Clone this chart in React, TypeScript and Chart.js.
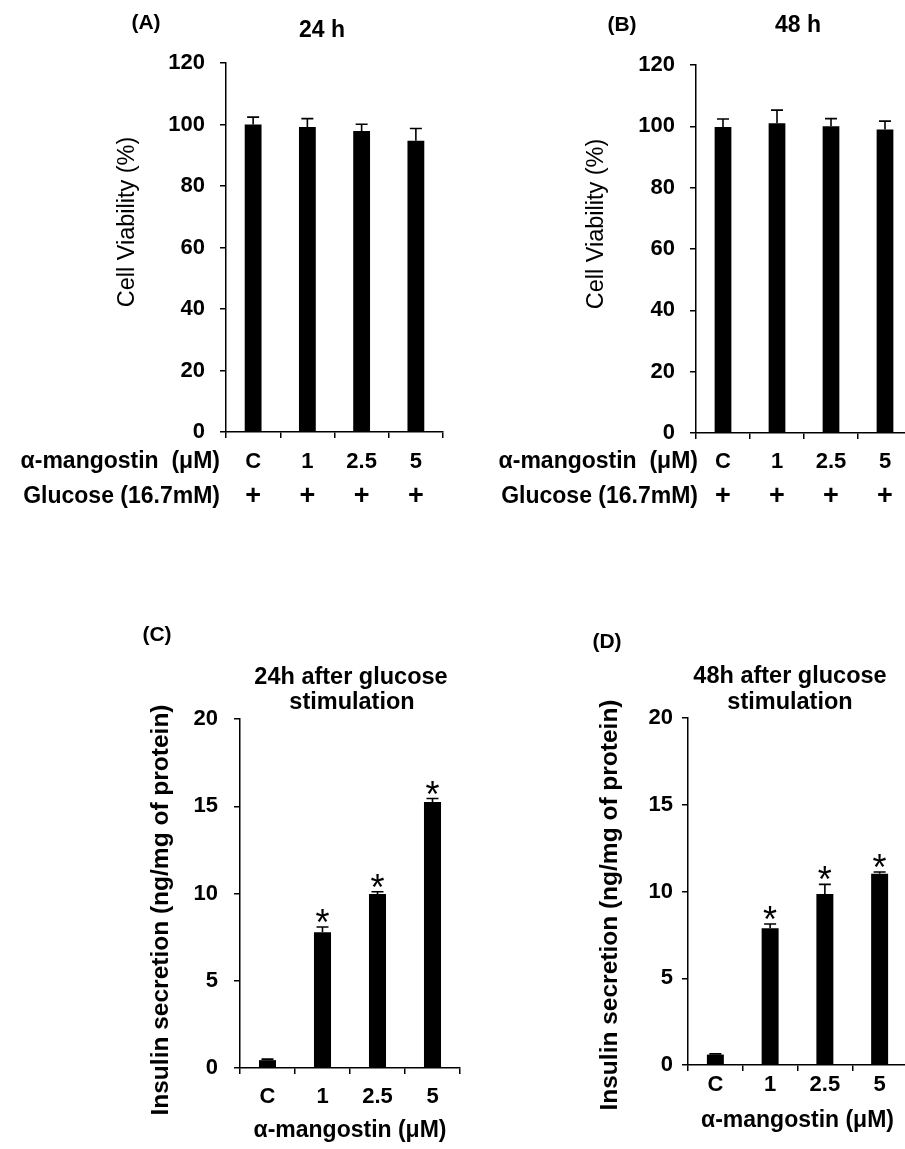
import React, { useEffect, useRef } from 'react';
import { Chart, registerables } from 'chart.js';

Chart.register(...registerables);

// ---------------- data ----------------
const categories = ['C', '1', '2.5', '5'];
const glucoseRow = ['+', '+', '+', '+'];

const viability24 = [100, 99.2, 97.9, 94.7];
const viability24Err = [2.4, 2.7, 2.2, 4.0];
const viability48 = [99.8, 101.0, 100.0, 99.0];
const viability48Err = [2.6, 4.3, 2.5, 2.7];

const insulin24 = [0.45, 7.78, 9.97, 15.24];
const insulin24Err = [0.06, 0.3, 0.13, 0.2];
const insulin48 = [0.6, 7.88, 9.86, 11.02];
const insulin48Err = [0.04, 0.25, 0.55, 0.1];

const insulin24Marks = ['', '*', '*', '*'];
const insulin48Marks = ['', '*', '*', '*'];
const noMarks = ['', '', '', ''];

const viabilityRange = { min: 0, max: 120, step: 20 };
const insulinRange = { min: 0, max: 20, step: 5 };

// ---------------- styling / layout ----------------
const FAMILY = "'Liberation Sans', Arial, Helvetica, sans-serif";
const bold = (s: number) => `bold ${s}px ${FAMILY}`;
const regular = (s: number) => `${s}px ${FAMILY}`;

Chart.defaults.font.family = FAMILY;
Chart.defaults.color = '#000';

type TextItem = {
  text: string;
  x: number;
  y: number;
  font: string;
  align?: CanvasTextAlign;
  rotate?: boolean;
};

type Row = { cells: string[]; y: number; font: string } | null;

type Panel = {
  key: string;
  labels: string[];
  values: number[];
  errors: number[];
  marks: string[];
  range: { min: number; max: number; step: number };
  box: { x: number; y: number; w: number; h: number };
  yWidth: number;
  padTop: number;
  padRight: number;
  xHeight: number;
  yTickPad: number;
  xTickPad: number;
  xTitle?: { text: string; pad: number };
  row: Row;
  texts: TextItem[];
};

const panels: Panel[] = [
  {
    key: 'A',
    labels: categories,
    values: viability24,
    errors: viability24Err,
    marks: noMarks,
    range: viabilityRange,
    box: { x: 0, y: 0, w: 452, h: 520 },
    yWidth: 226,
    padTop: 63,
    padRight: 9,
    xHeight: 88,
    yTickPad: 15,
    xTickPad: 10.5,
    row: { cells: glucoseRow, y: 497, font: bold(27) },
    texts: [
      { text: '(A)', x: 146, y: 23, font: bold(21) },
      { text: '24 h', x: 322, y: 31, font: bold(23) },
      { text: 'Cell Viability (%)', x: 128, y: 222, font: regular(23.5), rotate: true },
      { text: 'α-mangostin  (μM)', x: 220, y: 462, font: bold(23), align: 'right' },
      { text: 'Glucose (16.7mM)', x: 220, y: 497, font: bold(23), align: 'right' },
    ],
  },
  {
    key: 'B',
    labels: categories,
    values: viability48,
    errors: viability48Err,
    marks: noMarks,
    range: viabilityRange,
    box: { x: 452, y: 0, w: 470, h: 520 },
    yWidth: 244,
    padTop: 65,
    padRight: 10,
    xHeight: 87,
    yTickPad: 15,
    xTickPad: 9.5,
    row: { cells: glucoseRow, y: 497, font: bold(27) },
    texts: [
      { text: '(B)', x: 622, y: 25, font: bold(21) },
      { text: '48 h', x: 798, y: 26, font: bold(23) },
      { text: 'Cell Viability (%)', x: 597, y: 224, font: regular(23.5), rotate: true },
      { text: 'α-mangostin  (μM)', x: 698, y: 462, font: bold(23), align: 'right' },
      { text: 'Glucose (16.7mM)', x: 698, y: 497, font: bold(23), align: 'right' },
    ],
  },
  {
    key: 'C',
    labels: categories,
    values: insulin24,
    errors: insulin24Err,
    marks: insulin24Marks,
    range: insulinRange,
    box: { x: 0, y: 520, w: 470, h: 629 },
    yWidth: 240,
    padTop: 199,
    padRight: 10,
    xHeight: 81,
    yTickPad: 16,
    xTickPad: 9.4,
    xTitle: { text: 'α-mangostin (μM)', pad: 5 },
    row: null,
    texts: [
      { text: '(C)', x: 157, y: 635, font: bold(21) },
      { text: '24h after glucose', x: 351, y: 678, font: bold(23.5) },
      { text: 'stimulation', x: 352, y: 703, font: bold(23.5) },
      { text: 'Insulin secretion (ng/mg of protein)', x: 161, y: 910, font: bold(24.5), rotate: true },
    ],
  },
  {
    key: 'D',
    labels: categories,
    values: insulin48,
    errors: insulin48Err,
    marks: insulin48Marks,
    range: insulinRange,
    box: { x: 470, y: 520, w: 450, h: 629 },
    yWidth: 218,
    padTop: 198,
    padRight: 13,
    xHeight: 84,
    yTickPad: 9,
    xTickPad: 0.8,
    xTitle: { text: 'α-mangostin (μM)', pad: 15 },
    row: null,
    texts: [
      { text: '(D)', x: 607, y: 642, font: bold(21) },
      { text: '48h after glucose', x: 790, y: 677, font: bold(23.5) },
      { text: 'stimulation', x: 790, y: 703, font: bold(23.5) },
      { text: 'Insulin secretion (ng/mg of protein)', x: 610, y: 905, font: bold(24.5), rotate: true },
    ],
  },
];

// ---------------- plugins ----------------
const errorBarPlugin = {
  id: 'errorBars',
  afterDatasetsDraw(chart: any, _args: any, opts: any) {
    const { errors, marks } = opts;
    const ctx: CanvasRenderingContext2D = chart.ctx;
    const meta = chart.getDatasetMeta(0);
    const yScale = chart.scales.y;
    const values: number[] = chart.data.datasets[0].data;
    ctx.save();
    ctx.strokeStyle = '#000';
    ctx.fillStyle = '#000';
    ctx.lineWidth = 1.6;
    meta.data.forEach((bar: any, i: number) => {
      const v = values[i];
      const e = errors[i];
      const x = bar.x;
      const y0 = yScale.getPixelForValue(v);
      const y1 = yScale.getPixelForValue(v + e);
      ctx.beginPath();
      ctx.moveTo(x, y0);
      ctx.lineTo(x, y1);
      ctx.moveTo(x - 6, y1);
      ctx.lineTo(x + 6, y1);
      ctx.stroke();
      if (marks[i]) {
        ctx.font = regular(36);
        ctx.textAlign = 'center';
        ctx.textBaseline = 'alphabetic';
        const m = ctx.measureText(marks[i]);
        const cy = y1 - 11;
        const base = cy + (m.actualBoundingBoxAscent - m.actualBoundingBoxDescent) / 2;
        ctx.fillText(marks[i], x, base);
      }
    });
    ctx.restore();
  },
};

const textPlugin = {
  id: 'panelText',
  afterDraw(chart: any, _args: any, opts: any) {
    const { items, ox, oy, row } = opts;
    const ctx: CanvasRenderingContext2D = chart.ctx;
    ctx.save();
    ctx.fillStyle = '#000';
    items.forEach((t: TextItem) => {
      ctx.save();
      ctx.font = t.font;
      ctx.textAlign = t.align || 'center';
      ctx.textBaseline = 'middle';
      ctx.translate(t.x - ox, t.y - oy);
      if (t.rotate) ctx.rotate(-Math.PI / 2);
      ctx.fillText(t.text, 0, 0);
      ctx.restore();
    });
    if (row) {
      const xScale = chart.scales.x;
      ctx.font = row.font;
      ctx.textAlign = 'center';
      ctx.textBaseline = 'middle';
      row.cells.forEach((c: string, i: number) => {
        ctx.fillText(c, xScale.getPixelForTick(i), row.y - oy);
      });
    }
    ctx.restore();
  },
};

// ---------------- components ----------------
function PanelChart({ p }: { p: Panel }) {
  const ref = useRef<HTMLCanvasElement | null>(null);
  useEffect(() => {
    const canvas = ref.current;
    if (!canvas) return;
    const chart = new Chart(canvas, {
      type: 'bar',
      data: {
        labels: p.labels,
        datasets: [
          {
            data: p.values,
            backgroundColor: '#000',
            borderWidth: 0,
            barPercentage: 0.31,
            categoryPercentage: 1,
          },
        ],
      },
      options: {
        animation: false,
        responsive: false,
        maintainAspectRatio: false,
        devicePixelRatio: 1,
        layout: { padding: { left: 0, top: p.padTop, right: p.padRight, bottom: 0 } },
        plugins: {
          legend: { display: false },
          tooltip: { enabled: false },
          title: { display: false },
          errorBars: { errors: p.errors, marks: p.marks },
          panelText: { items: p.texts, ox: p.box.x, oy: p.box.y, row: p.row },
        } as any,
        scales: {
          x: {
            grid: {
              display: true,
              drawOnChartArea: false,
              drawTicks: true,
              tickLength: 6,
              color: '#000',
              lineWidth: 1.5,
              offset: true,
            },
            border: { display: true, color: '#000', width: 1.5 },
            ticks: {
              color: '#000',
              font: { size: 22, weight: 'bold', family: FAMILY, lineHeight: 1.2 },
              padding: p.xTickPad,
              maxRotation: 0,
              minRotation: 0,
              autoSkip: false,
            },
            title: p.xTitle
              ? {
                  display: true,
                  text: p.xTitle.text,
                  color: '#000',
                  font: { size: 23, weight: 'bold', family: FAMILY, lineHeight: 1.2 },
                  padding: { top: 0, bottom: p.xTitle.pad },
                }
              : { display: false },
            afterFit: (s: any) => {
              s.height = p.xHeight;
            },
          },
          y: {
            min: p.range.min,
            max: p.range.max,
            ticks: {
              stepSize: p.range.step,
              color: '#000',
              font: { size: 22, weight: 'bold', family: FAMILY },
              padding: p.yTickPad,
            },
            grid: {
              display: true,
              drawOnChartArea: false,
              drawTicks: true,
              tickLength: 6,
              color: '#000',
              lineWidth: 1.5,
            },
            border: { display: true, color: '#000', width: 1.5 },
            afterFit: (s: any) => {
              s.width = p.yWidth;
            },
          },
        },
      } as any,
      plugins: [errorBarPlugin, textPlugin],
    });
    return () => chart.destroy();
  }, [p]);
  return (
    <canvas
      ref={ref}
      width={p.box.w}
      height={p.box.h}
      style={{
        position: 'absolute',
        left: p.box.x,
        top: p.box.y,
        width: p.box.w,
        height: p.box.h,
      }}
    />
  );
}

export default function App() {
  return (
    <div
      style={{
        position: 'absolute',
        left: 0,
        top: 0,
        width: 905,
        height: 1149,
        overflow: 'hidden',
        background: '#fff',
      }}
    >
      {panels.map((p) => (
        <PanelChart key={p.key} p={p} />
      ))}
    </div>
  );
}
